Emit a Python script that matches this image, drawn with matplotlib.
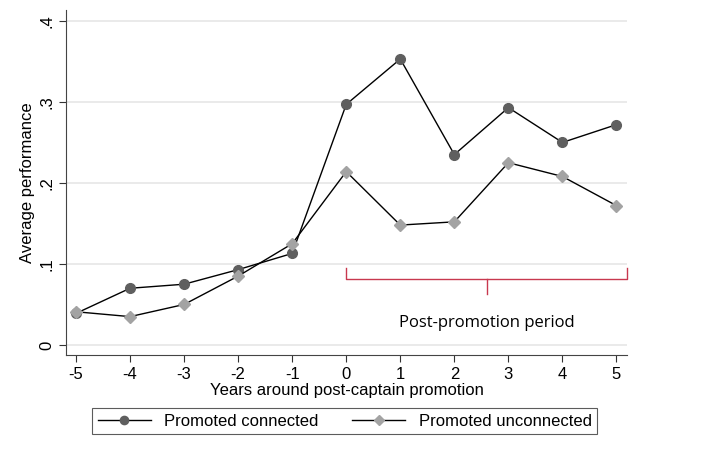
import matplotlib
matplotlib.use("Agg")
import matplotlib.pyplot as plt

plt.rcParams['font.family'] = ['Liberation Sans', 'DejaVu Sans']
plt.rcParams['axes.unicode_minus'] = False

years = [-5, -4, -3, -2, -1, 0, 1, 2, 3, 4, 5]
connected = [0.039, 0.070, 0.075, 0.093, 0.113, 0.297, 0.353, 0.235, 0.293, 0.250, 0.272]
unconnected = [0.041, 0.035, 0.050, 0.085, 0.125, 0.214, 0.148, 0.152, 0.225, 0.208, 0.172]
yticks = [0, 0.1, 0.2, 0.3, 0.4]
ytick_labels = ['0', '.1', '.2', '.3', '.4']

fig = plt.figure(figsize=(7.06, 4.51), dpi=100)
ax = fig.add_axes([0.0935, 0.213, 0.795, 0.765])

for y in yticks:
    ax.axhline(y, color='#e6e6e6', lw=1.2, zorder=0)

ax.plot(years, connected, color='black', lw=1, marker='o', ms=7,
        mfc='#5f5f5f', mec='#5f5f5f', label='Promoted connected', zorder=3)
ax.plot(years, unconnected, color='black', lw=1, marker='D', ms=6.5,
        mfc='#a3a3a3', mec='#a3a3a3', label='Promoted unconnected', zorder=3)

# bracket marking the post-promotion period
red = '#c8384f'
bx0, bx1, bmid = 0, 5.2, 2.6
ax.plot([bx0, bx0, bx1, bx1], [0.095, 0.081, 0.081, 0.095], color=red, lw=1, clip_on=False)
ax.plot([bmid, bmid], [0.081, 0.063], color=red, lw=1)
ax.text(bmid, 0.027, 'Post-promotion period', ha='center', va='center',
        fontsize=12, family=['Open Sans', 'DejaVu Sans'])

ax.set_xlim(-5.185, 5.2)
ax.set_ylim(-0.0123, 0.4136)
ax.set_xticks(years)
ax.set_yticks(yticks)
ax.set_yticklabels(ytick_labels, rotation=90, va='center')
ax.tick_params(labelsize=12, length=5, color='#333333')
ax.spines['top'].set_visible(False)
ax.spines['right'].set_visible(False)
for s in ('left', 'bottom'):
    ax.spines[s].set_color('#444444')
ax.set_xlabel('Years around post-captain promotion', fontsize=12, labelpad=1)
ax.set_ylabel('Average performance', fontsize=12, labelpad=3)

leg = fig.legend(loc='center', bbox_to_anchor=(0.488, 0.0665), ncol=2,
                 fontsize=12, frameon=True, fancybox=False, edgecolor='#333333',
                 handlelength=3.2, columnspacing=2.0, borderpad=0.35,
                 markerscale=0.85)
leg.get_frame().set_linewidth(0.8)

plt.savefig('out.png', dpi=100)
